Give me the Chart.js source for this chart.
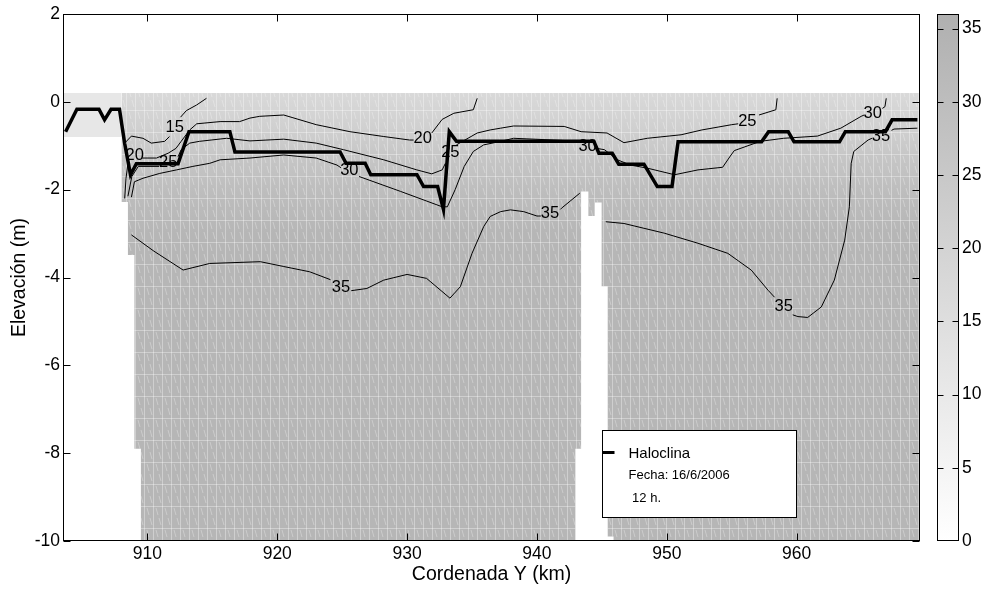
<!DOCTYPE html>
<html>
<head>
<meta charset="utf-8">
<script src="https://cdn.jsdelivr.net/npm/chart.js@4.4.1/dist/chart.umd.min.js"></script>
<style>
  html, body { margin: 0; padding: 0; background: #fff; }
  #wrap { position: relative; width: 988px; height: 594px; }
  #perfil { position: absolute; left: 0; top: 0; }
  #barra { position: absolute; left: 930px; top: 0; }
</style>
</head>
<body>
<div id="wrap">
  <canvas id="perfil" width="988" height="594"></canvas>
  <canvas id="barra" width="58" height="594"></canvas>
</div>
<script>
// Ejes
const xTicks = [910, 920, 930, 940, 950, 960];
const yTicks = [-10, -8, -6, -4, -2, 0, 2];
const barraTicks = [0, 5, 10, 15, 20, 25, 30, 35];

// Haloclina
const halX = [903.7, 904.57, 906.27, 906.7, 907.2, 907.85, 908.25, 908.7, 909.15, 912.36, 913.2, 916.35, 916.74, 924.84, 925.3, 926.77, 927.2, 930.76, 931.27, 932.35, 932.8, 933.25, 933.8, 944.38, 944.77, 945.8, 946.3, 948.24, 949.27, 950.4, 950.87, 957.3, 957.84, 959.35, 959.8, 963.3, 963.75, 966.84, 967.35, 969.3];
const halY = [-0.68, -0.17, -0.17, -0.41, -0.17, -0.17, -0.95, -1.66, -1.41, -1.41, -0.68, -0.68, -1.14, -1.14, -1.40, -1.40, -1.66, -1.66, -1.93, -1.93, -2.45, -0.68, -0.90, -0.90, -1.17, -1.17, -1.42, -1.42, -1.93, -1.93, -0.91, -0.91, -0.68, -0.68, -0.91, -0.91, -0.68, -0.68, -0.41, -0.41];

// Isohalinas (null = hueco de la etiqueta)
const c15X = [908.25, 908.77, 909.66, 910.3, 911.33, 911.7, null, 912.55, 913.0, 913.8, 914.55];
const c15Y = [-0.94, -0.78, -0.83, -0.94, -0.90, -0.79, null, -0.35, -0.2, -0.07, 0.08];

const c20X = [908.25, 908.35, 908.5, null, 909.6, 910.7, 911.6, 912.2, 912.6, 913.26, 913.8, 915.6, 917.1, 917.9, 918.65, 920.5, 923.0, 925.6, 928.2, 930.2, 930.5, null, 931.9, 932.7, 933.6, 935.1, 935.4];
const c20Y = [-2.2, -1.75, -1.4, null, -1.28, -1.28, -1.17, -1.06, -0.90, -0.64, -0.50, -0.45, -0.45, -0.37, -0.33, -0.30, -0.52, -0.68, -0.79, -0.87, -0.87, null, -0.71, -0.40, -0.26, -0.18, 0.08];

const c25X = [908.5, 908.8, 909.3, 910.9, null, 912.36, 912.6, 913.26, 914.0, 916.1, 917.9, 920.5, 923.0, 925.1, 928.2, 930.75, 931.9, 932.7, 932.95, null, 933.8, 935.4, 936.4, 937.2, 938.2, 942.1, 943.4, 945.4, 946.7, 948.5, 951.1, 952.7, 955.0, 955.5, null, 957.1, 958.4, 958.5];
const c25Y = [-2.15, -1.7, -1.47, -1.47, null, -1.25, -1.09, -0.94, -0.90, -0.83, -0.89, -0.85, -0.94, -1.09, -1.32, -1.55, -1.64, -1.55, -1.40, null, -0.98, -0.71, -0.64, -0.60, -0.55, -0.56, -0.68, -0.71, -0.93, -0.83, -0.75, -0.64, -0.52, -0.50, null, -0.30, -0.18, 0.08];

const c30X = [908.77, 909.0, 909.66, 910.95, 912.24, 913.5, 914.8, 915.6, 917.9, 920.5, 923.0, 924.6, 924.9, null, 926.3, 929.5, 932.7, 933.1, 933.7, 934.4, 935.1, 935.9, 937.2, 938.2, 942.1, 943.2, null, 944.6, 945.2, 946.2, 947.2, 948.5, 950.6, 952.4, 954.3, 954.95, 955.2, 957.2, 959.0, 961.6, 963.4, 964.97, 965.2, null, 966.6, 966.8, 966.9];
const c30Y = [-2.17, -1.82, -1.74, -1.63, -1.55, -1.47, -1.40, -1.32, -1.28, -1.21, -1.28, -1.44, -1.50, null, -1.70, -2.04, -2.39, -2.39, -2.0, -1.47, -1.13, -0.98, -0.90, -0.83, -0.88, -0.92, null, -1.06, -1.09, -1.32, -1.44, -1.51, -1.66, -1.55, -1.49, -1.21, -1.11, -0.90, -0.83, -0.78, -0.60, -0.33, -0.30, null, -0.15, -0.11, 0.08];

const c35aX = [908.77, 910.5, 912.75, 914.8, 918.7, 920.5, 922.5, 924.1, null, 925.7, 926.9, 928.2, 930.0, 931.5, 933.3, 934.1, 935.0, 935.9, 936.4, 937.2, 937.96, 938.98, 940.0, 940.3, null, 941.8, 941.9, 943.3];
const c35aY = [-3.03, -3.4, -3.83, -3.68, -3.64, -3.75, -3.87, -4.05, null, -4.30, -4.25, -4.06, -3.93, -4.02, -4.47, -4.21, -3.45, -2.84, -2.61, -2.50, -2.46, -2.50, -2.60, -2.60, null, -2.45, -2.42, -2.08];

const c35bX = [945.3, 946.7, 949.8, 952.4, 954.7, 956.5, 957.8, 958.3, null, 959.7, 960.1, 960.85, 961.9, 962.9, 963.7, 964.06, 964.2, 964.4, 965.5, 965.8, null, 967.3, 967.5, 969.3];
const c35bY = [-2.73, -2.77, -2.99, -3.22, -3.45, -3.83, -4.29, -4.45, null, -4.85, -4.89, -4.91, -4.67, -4.06, -3.15, -2.39, -1.40, -1.13, -0.87, -0.83, null, -0.65, -0.62, -0.60];

// Etiquetas de las isohalinas
const etiquetaTexto = ['15', '20', '25', '20', '25', '30', '35', '30', '35', '25', '35', '30', '35'];
const etiquetaX = [912.1, 909.02, 911.6, 931.2, 933.33, 925.55, 924.9, 943.9, 941.0, 956.2, 959.0, 965.86, 966.5];
const etiquetaY = [-0.58, -1.21, -1.38, -0.83, -1.15, -1.57, -4.22, -1.02, -2.54, -0.45, -4.65, -0.26, -0.79];

// Campo de salinidad: superficie y fondo (escalones)
const superficie = 0.2;
const cajaX = [903.5, 908.0];
const cajaY = [-0.8, -0.8];
const fondoX = [908.0, 908.5, 909.0, 909.5, 942.96, 943.4, 943.96, 944.47, 944.98, 945.45, 945.9, 969.5];
const fondoY = [-2.28, -3.49, -7.9, -10, -7.9, -2.04, -2.6, -2.29, -4.2, -9.9, -10, -10];

const salMin = 0;
const salMax = 36;

Chart.defaults.font.family = '"Liberation Sans", Arial, Helvetica, sans-serif';
Chart.defaults.color = '#000';

const puntos = (xs, ys) => xs.map((x, i) => ({ x: x, y: ys[i] }));

const isolinea = (xs, ys) => ({
  data: puntos(xs, ys),
  borderColor: '#000',
  borderWidth: 1,
  pointRadius: 0,
  fill: false,
  spanGaps: false,
  tension: 0
});

// textura del relleno (lineas claras del original)
function texturaCampo() {
  const c = document.createElement('canvas');
  c.width = 9; c.height = 22;
  const g = c.getContext('2d');
  g.strokeStyle = 'rgba(255,255,255,0.35)';
  g.lineWidth = 1;
  g.beginPath();
  g.moveTo(0.5, 0); g.lineTo(0.5, 22);
  g.moveTo(0, 0.5); g.lineTo(9, 0.5);
  g.stroke();
  g.strokeStyle = 'rgba(255,255,255,0.3)';
  g.beginPath();
  g.moveTo(3, 2); g.lineTo(5, 9);
  g.moveTo(6, 12); g.lineTo(8, 19);
  g.stroke();
  return g.createPattern(c, 'repeat');
}
const textura = texturaCampo();

function degradadoCampo(context) {
  const chart = context.chart;
  if (!chart.chartArea) return '#bbb';
  const y = chart.scales.y;
  const y0 = y.getPixelForValue(superficie);
  const y1 = y.getPixelForValue(-3);
  const g = chart.ctx.createLinearGradient(0, y0, 0, y1);
  g.addColorStop(0, '#d9d9d9');
  g.addColorStop(0.25, '#d0d0d0');
  g.addColorStop(0.45, '#c6c6c6');
  g.addColorStop(0.7, '#bdbdbd');
  g.addColorStop(1, '#b6b6b6');
  return g;
}

const perfilPlugin = {
  id: 'perfilMarco',
  afterDatasetsDraw(chart) {
    const { ctx, chartArea: a, scales: { x, y } } = chart;
    ctx.save();
    // etiquetas de contorno
    ctx.font = '16.5px "Liberation Sans", Arial, sans-serif';
    ctx.fillStyle = '#000';
    ctx.textAlign = 'center';
    ctx.textBaseline = 'middle';
    etiquetaTexto.forEach((t, i) => {
      ctx.fillText(t, x.getPixelForValue(etiquetaX[i]), y.getPixelForValue(etiquetaY[i]));
    });
    // marco y marcas hacia dentro
    ctx.strokeStyle = '#000';
    ctx.lineWidth = 1;
    const L = Math.round(a.left) + 0.5, R = Math.round(a.right) - 0.5;
    const T = Math.round(a.top) + 0.5, B = Math.round(a.bottom) - 0.5;
    ctx.strokeRect(L, T, R - L, B - T);
    ctx.beginPath();
    xTicks.forEach(v => {
      const px = Math.round(x.getPixelForValue(v)) + 0.5;
      ctx.moveTo(px, B); ctx.lineTo(px, B - 7);
      ctx.moveTo(px, T); ctx.lineTo(px, T + 7);
    });
    yTicks.forEach(v => {
      const py = Math.round(y.getPixelForValue(v)) + 0.5;
      ctx.moveTo(L, py); ctx.lineTo(L + 7, py);
      ctx.moveTo(R, py); ctx.lineTo(R - 7, py);
    });
    ctx.stroke();
    ctx.restore();
  },
  afterDraw(chart) {
    const { ctx, chartArea: a } = chart;
    // leyenda
    const bx = Math.round(a.left) + 539.5, by = Math.round(a.top) + 416.5;
    ctx.save();
    ctx.fillStyle = '#fff';
    ctx.fillRect(bx, by, 194, 87);
    ctx.strokeStyle = '#000';
    ctx.lineWidth = 1;
    ctx.strokeRect(bx, by, 194, 87);
    ctx.lineWidth = 3;
    ctx.beginPath();
    ctx.moveTo(bx, by + 22); ctx.lineTo(bx + 12, by + 22);
    ctx.stroke();
    ctx.fillStyle = '#000';
    ctx.textAlign = 'left';
    ctx.textBaseline = 'alphabetic';
    ctx.font = '15px "Liberation Sans", Arial, sans-serif';
    ctx.fillText('Haloclina', bx + 26, by + 27);
    ctx.font = '13px "Liberation Sans", Arial, sans-serif';
    ctx.fillText('Fecha: 16/6/2006', bx + 26, by + 48);
    ctx.fillText(' 12 h.', bx + 26, by + 71);
    ctx.restore();
  }
};

new Chart(document.getElementById('perfil'), {
  type: 'line',
  data: {
    datasets: [
      {
        label: 'Haloclina',
        data: puntos(halX, halY),
        borderColor: '#000',
        borderWidth: 3.5,
        borderJoinStyle: 'miter',
        pointRadius: 0,
        fill: false,
        tension: 0
      },
      isolinea(c15X, c15Y),
      isolinea(c20X, c20Y),
      isolinea(c25X, c25Y),
      isolinea(c30X, c30Y),
      isolinea(c35aX, c35aY),
      isolinea(c35bX, c35bY),
      {
        data: puntos(fondoX, fondoY),
        stepped: 'before',
        borderWidth: 0,
        borderColor: 'rgba(0,0,0,0)',
        pointRadius: 0,
        fill: { value: superficie },
        backgroundColor: textura
      },
      {
        data: puntos(fondoX, fondoY),
        stepped: 'before',
        borderWidth: 0,
        borderColor: 'rgba(0,0,0,0)',
        pointRadius: 0,
        fill: { value: superficie },
        backgroundColor: degradadoCampo
      },
      {
        data: puntos(cajaX, cajaY),
        borderWidth: 0,
        borderColor: 'rgba(0,0,0,0)',
        pointRadius: 0,
        fill: { value: superficie },
        backgroundColor: '#e7e7e7'
      }
    ]
  },
  options: {
    responsive: false,
    animation: false,
    layout: { padding: { left: 0, top: 14, right: 68, bottom: 0 } },
    plugins: { legend: { display: false }, tooltip: { enabled: false } },
    scales: {
      x: {
        type: 'linear',
        min: 903.5,
        max: 969.5,
        afterBuildTicks: s => { s.ticks = xTicks.map(v => ({ value: v })); },
        afterFit: s => { s.height = 53; },
        grid: { display: false, drawTicks: false },
        border: { display: false },
        ticks: { font: { size: 17.5 }, padding: 3, maxRotation: 0 },
        title: { display: true, text: 'Cordenada Y (km)', font: { size: 19.5 }, padding: { top: 0, bottom: 8 } }
      },
      y: {
        type: 'linear',
        min: -10,
        max: 2,
        afterBuildTicks: s => { s.ticks = yTicks.map(v => ({ value: v })); },
        afterFit: s => { s.width = 63; },
        grid: { display: false, drawTicks: false },
        border: { display: false },
        ticks: { font: { size: 17.5 }, padding: 3 },
        title: { display: true, text: 'Elevación (m)', font: { size: 19.5 }, padding: { top: 8, bottom: 0 } }
      }
    }
  },
  plugins: [perfilPlugin]
});

// Barra de color
function degradadoBarra(context) {
  const chart = context.chart;
  if (!chart.chartArea) return '#ccc';
  const y = chart.scales.y;
  const g = chart.ctx.createLinearGradient(0, y.getPixelForValue(salMin), 0, y.getPixelForValue(salMax));
  g.addColorStop(0, '#ffffff');
  g.addColorStop(1, '#b0b0b0');
  return g;
}

const barraPlugin = {
  id: 'barraMarco',
  afterDatasetsDraw(chart) {
    const { ctx, chartArea: a, scales: { y } } = chart;
    ctx.save();
    ctx.strokeStyle = '#000';
    ctx.lineWidth = 1;
    const L = Math.round(a.left) + 0.5, R = Math.round(a.right) - 0.5;
    const T = Math.round(a.top) + 0.5, B = Math.round(a.bottom) - 0.5;
    ctx.strokeRect(L, T, R - L, B - T);
    ctx.beginPath();
    barraTicks.forEach(v => {
      const py = Math.round(y.getPixelForValue(v)) + 0.5;
      if (v === salMin) return;
      ctx.moveTo(L, py); ctx.lineTo(L + 6, py);
      ctx.moveTo(R, py); ctx.lineTo(R - 6, py);
    });
    ctx.stroke();
    ctx.restore();
  }
};

new Chart(document.getElementById('barra'), {
  type: 'bar',
  data: {
    labels: ['salinidad'],
    datasets: [{
      data: [[salMin, salMax]],
      backgroundColor: degradadoBarra,
      borderWidth: 0,
      barPercentage: 1,
      categoryPercentage: 1
    }]
  },
  options: {
    responsive: false,
    animation: false,
    layout: { padding: { left: 7, top: 14, right: 0, bottom: 53 } },
    plugins: { legend: { display: false }, tooltip: { enabled: false } },
    scales: {
      x: { display: false },
      y: {
        position: 'right',
        min: salMin,
        max: salMax,
        afterBuildTicks: s => { s.ticks = barraTicks.map(v => ({ value: v })); },
        afterFit: s => { s.width = 29; },
        grid: { display: false, drawTicks: false },
        border: { display: false },
        ticks: { font: { size: 17.5 }, padding: 3 }
      }
    }
  },
  plugins: [barraPlugin]
});
</script>
</body>
</html>
